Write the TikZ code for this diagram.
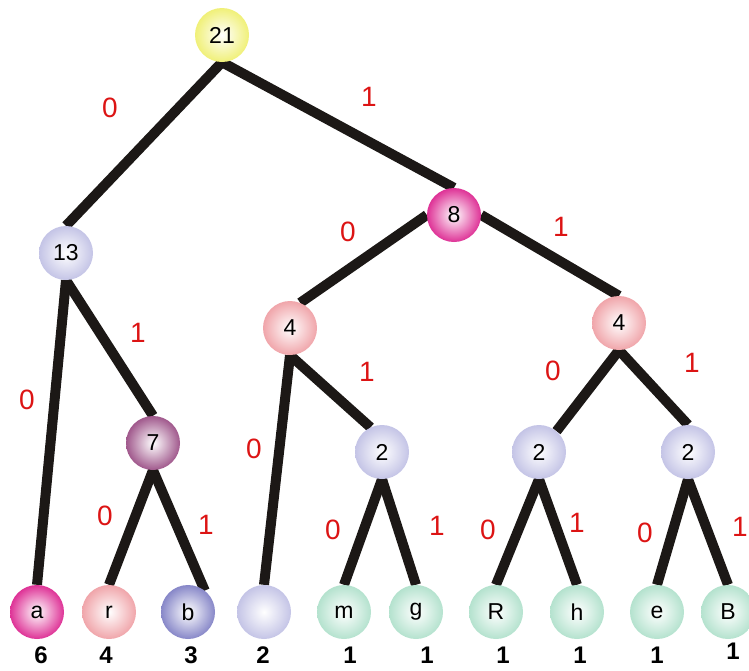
\documentclass[tikz,border=0pt]{standalone}
\usepackage{fontspec}
\setmainfont{Liberation Sans}
\usetikzlibrary{backgrounds}
\definecolor{cyel}{RGB}{240,240,120}
\definecolor{clav}{RGB}{196,196,230}
\definecolor{cmag}{RGB}{222,50,150}
\definecolor{cpink}{RGB}{240,165,170}
\definecolor{cmauve}{RGB}{160,88,140}
\definecolor{cslate}{RGB}{135,135,200}
\definecolor{cmint}{RGB}{180,226,206}
\definecolor{edgeblack}{RGB}{28,24,22}
\definecolor{bitred}{RGB}{220,20,20}
\begin{document}
\begin{tikzpicture}[x=1pt,y=-1pt,
  tnode/.style={circle, minimum size=54pt, inner sep=0pt, shade, inner color=white, outer color=#1, font=\fontsize{23}{23}\selectfont},
  edgeline/.style={line width=10pt, draw=edgeblack},
  bit/.style={text=bitred, inner sep=0pt, font=\fontsize{28}{28}\selectfont},
  cnt/.style={inner sep=0pt, font=\bfseries\fontsize{24}{24}\selectfont}]
\useasboundingbox (0,0) rectangle (749,670);
% internal nodes
\node[tnode=cyel]   (n21) at (222,35) {21};
\node[tnode=clav]   (n13) at (66,253) {13};
\node[tnode=cmag]   (n8)  at (454,215) {8};
\node[tnode=cpink]  (n4l) at (290,328) {4};
\node[tnode=cpink]  (n4r) at (619,323) {4};
\node[tnode=cmauve] (n7)  at (153,443) {7};
\node[tnode=clav]   (n2a) at (382,452) {2};
\node[tnode=clav]   (n2b) at (539,452) {2};
\node[tnode=clav]   (n2c) at (688,452) {2};
% leaves
\node[tnode=cmag]   (la) at (37,612) {a};
\node[tnode=cpink]  (lr) at (109,612) {r};
\node[tnode=cslate] (lb) at (188,612) {b};
\node[tnode=clav]   (lx) at (264,612) {};
\node[tnode=cmint]  (lm) at (344,612) {m};
\node[tnode=cmint]  (lg) at (416,612) {g};
\node[tnode=cmint]  (lR) at (496,612) {R};
\node[tnode=cmint]  (lh) at (577,612) {h};
\node[tnode=cmint]  (le) at (657,612) {e};
\node[tnode=cmint]  (lB) at (728,612) {B};
% edges
\begin{scope}[on background layer]
\draw[edgeline] (n21.south) -- (n13.north);
\draw[edgeline] (n21.south) -- (n8.north);
\draw[edgeline] (n13.south) -- (la.north);
\draw[edgeline] (n13.south) -- (n7.north);
\draw[edgeline] (n7.south) -- (lr.north);
\draw[edgeline] (n7.south) -- (lb.52);
\draw[edgeline] (n8.west) -- (n4l.68);
\draw[edgeline] (n8.east) -- (n4r.north);
\draw[edgeline] (n4l.south) -- (lx.north);
\draw[edgeline] (n4l.south) -- (n2a.115);
\draw[edgeline] (n2a.south) -- (lm.north);
\draw[edgeline] (n2a.south) -- (lg.north);
\draw[edgeline] (n4r.south) -- (n2b.50);
\draw[edgeline] (n4r.south) -- (n2c.north);
\draw[edgeline] (n2b.south) -- (lR.north);
\draw[edgeline] (n2b.south) -- (lh.north);
\draw[edgeline] (n2c.south) -- (le.north);
\draw[edgeline] (n2c.south) -- (lB.north);
\end{scope}
% bit labels
\node[bit] (b1) at (110,108) {0};
\node[bit] (b2) at (369,97) {1};
\node[bit] (b3) at (27,400) {0};
\node[bit] (b4) at (138,333) {1};
\node[bit] (b5) at (105,516) {0};
\node[bit] (b6) at (206,525) {1};
\node[bit] (b7) at (348,232) {0};
\node[bit] (b8) at (561,227) {1};
\node[bit] (b9) at (254,449) {0};
\node[bit] (b10) at (367,372) {1};
\node[bit] (b11) at (553,371) {0};
\node[bit] (b12) at (692,363) {1};
\node[bit] (b13) at (333,530) {0};
\node[bit] (b14) at (437,526) {1};
\node[bit] (b15) at (488,530) {0};
\node[bit] (b16) at (577,523) {1};
\node[bit] (b17) at (645,533) {0};
\node[bit] (b18) at (740,527) {1};
% counts
\node[cnt] (c1) at (41,655) {6};
\node[cnt] (c2) at (106,655) {4};
\node[cnt] (c3) at (191,655) {3};
\node[cnt] (c4) at (263,655) {2};
\node[cnt] (c5) at (350,655) {1};
\node[cnt] (c6) at (427,655) {1};
\node[cnt] (c7) at (503,655) {1};
\node[cnt] (c8) at (580,655) {1};
\node[cnt] (c9) at (657,655) {1};
\node[cnt] (c10) at (733,651) {1};
\end{tikzpicture}
\end{document}
